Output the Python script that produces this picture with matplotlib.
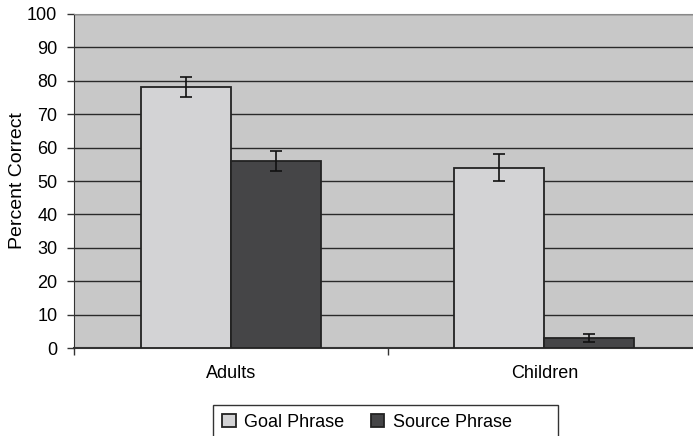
import matplotlib
matplotlib.use("Agg")
import matplotlib.pyplot as plt
from matplotlib.patches import Rectangle
import numpy as np

categories = ["Adults", "Children"]
series_names = ["Goal Phrase", "Source Phrase"]
goal = [78, 54]
goal_err = [3.0, 4.0]
source = [56, 3]
source_err = [3.0, 1.2]
yticks = [0, 10, 20, 30, 40, 50, 60, 70, 80, 90, 100]

plt.rcParams['font.family'] = ['Liberation Sans', 'DejaVu Sans']

W, H = 693, 436
fig = plt.figure(figsize=(W / 100, H / 100), dpi=100)
ax = fig.add_axes([74 / W, 1 - 348 / H, (701 - 74) / W, (348 - 14) / H])

bg = "#c8c8c8"
light = "#d3d3d5"
dark = "#454547"
edge = "#222222"
fs = 13

ax.set_facecolor(bg)
x = np.arange(len(categories))
bw = 0.287

ax.bar(x - bw / 2, goal, bw, color=light, edgecolor=edge, linewidth=1.3, zorder=3,
       label=series_names[0])
ax.bar(x + bw / 2, source, bw, color=dark, edgecolor=edge, linewidth=1.3, zorder=3,
       label=series_names[1])
ax.errorbar(x - bw / 2, goal, yerr=goal_err, fmt="none", ecolor="#111111",
            elinewidth=1.2, capsize=4.5, capthick=1.2, zorder=4)
ax.errorbar(x + bw / 2, source, yerr=source_err, fmt="none", ecolor="#111111",
            elinewidth=1.2, capsize=4.5, capthick=1.2, zorder=4)

ax.set_xlim(-0.5, len(categories) - 0.5)
ax.set_ylim(0, 100)
ax.set_yticks(yticks)
ax.set_yticklabels([str(v) for v in yticks], fontsize=fs)
ax.yaxis.grid(True, color="#2a2a2a", linewidth=1.0, zorder=1)
ax.set_axisbelow(True)

ax.set_xticks(np.arange(-0.5, len(categories), 1.0))
ax.set_xticklabels([])
ax.set_xticks(x, minor=True)
ax.set_xticklabels(categories, minor=True, fontsize=fs)
ax.tick_params(axis="x", which="minor", length=0, pad=12)
ax.tick_params(axis="x", which="major", length=5, width=1.0, color="#333333")
ax.tick_params(axis="y", length=5, width=1.0, color="#333333", pad=7)

ax.spines["top"].set_color("#888888")
ax.spines["right"].set_visible(False)
ax.spines["left"].set_color("#333333")
ax.spines["bottom"].set_color("#333333")
ax.spines["bottom"].set_linewidth(1.5)

ax.set_ylabel("Percent Correct", fontsize=14)
ax.yaxis.set_label_coords((26 - 74) / (701 - 74), 0.5)

# legend box (clipped at bottom like reference)
fig.patches.append(Rectangle((213 / W, -0.05), (558 - 213) / W, (1 - 405 / H) + 0.05,
                             transform=fig.transFigure, facecolor="white",
                             edgecolor="#333333", linewidth=1.0))
handles, labels = ax.get_legend_handles_labels()
leg = fig.legend(handles, labels, loc="center left",
                 bbox_to_anchor=(213 / W, 1 - 422 / H), ncol=2, frameon=False,
                 fontsize=fs, handlelength=0.75, handleheight=0.75,
                 handletextpad=0.45, columnspacing=1.5, borderpad=0)

fig.savefig("out.png", dpi=100)
